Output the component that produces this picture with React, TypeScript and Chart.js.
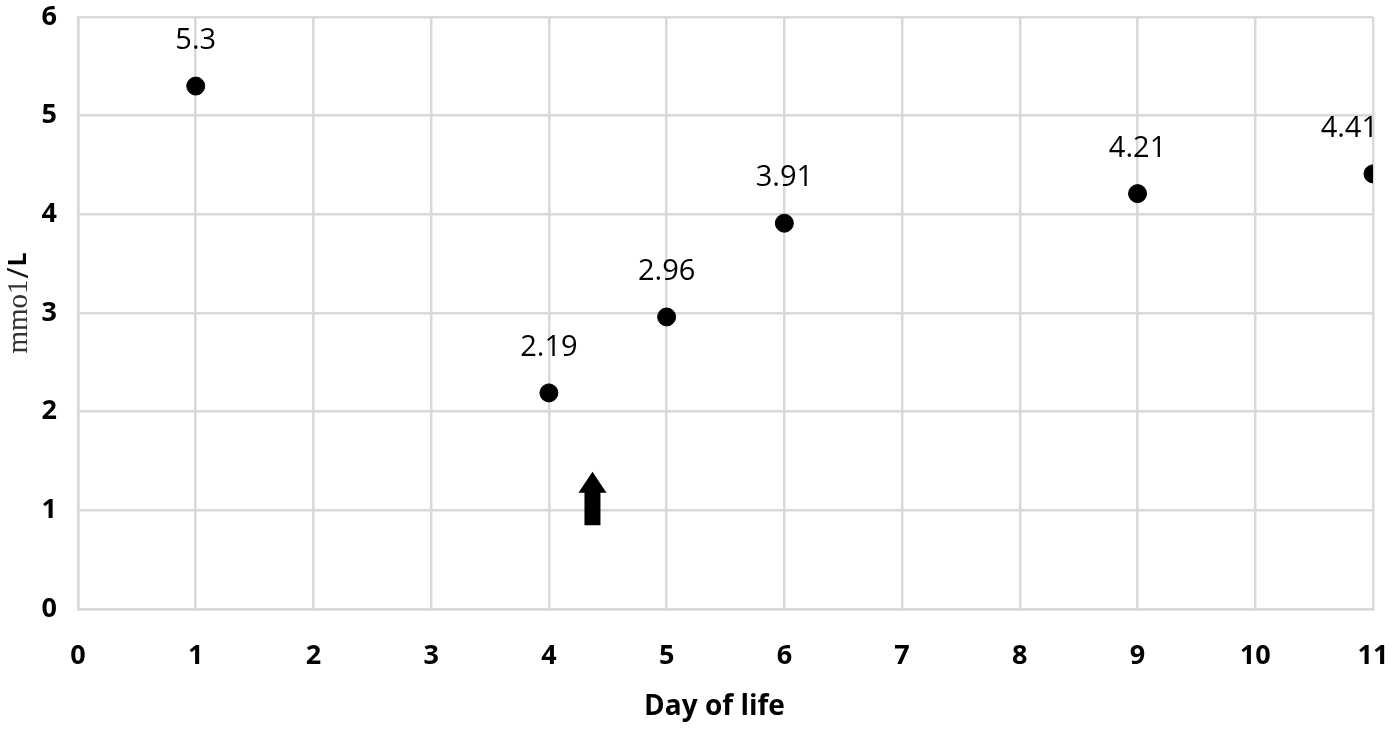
import React, { useEffect, useRef } from "react";
import { Chart, registerables } from "chart.js";

Chart.register(...registerables);

const days = [1, 4, 5, 6, 9, 11];
const values = [5.3, 2.19, 2.96, 3.91, 4.21, 4.41];
const valueLabels = ["5.3", "2.19", "2.96", "3.91", "4.21", "4.41"];
const xTickValues = [0, 1, 2, 3, 4, 5, 6, 7, 8, 9, 10, 11];
const yTickValues = [0, 1, 2, 3, 4, 5, 6];
const arrowDay = 4.37;
const arrowTopValue = 1.39;
const arrowBottomValue = 0.85;
const yTitleSerif = "mmo1";
const yTitleSlash = "/";
const yTitleBold = "L";
const xTitle = "Day of life";

const SANS = "'Open Sans', 'DejaVu Sans', sans-serif";

const labelPlugin = {
  id: "valueLabels",
  afterDatasetsDraw(chart: any) {
    const ctx = chart.ctx;
    const meta = chart.getDatasetMeta(0);
    ctx.save();
    ctx.font = `29px ${SANS}`;
    ctx.fillStyle = "#000";
    ctx.textAlign = "center";
    ctx.textBaseline = "middle";
    const maxRight = chart.width - 17;
    meta.data.forEach((pt: any, i: number) => {
      const w = ctx.measureText(valueLabels[i]).width;
      let x = pt.x;
      if (x + w / 2 > maxRight) x = maxRight - w / 2;
      ctx.fillText(valueLabels[i], x, pt.y - 45);
    });
    ctx.restore();
  },
};

const arrowPlugin = {
  id: "arrow",
  afterDatasetsDraw(chart: any) {
    const ctx = chart.ctx;
    const xs = chart.scales.x;
    const ys = chart.scales.y;
    const cx = xs.getPixelForValue(arrowDay);
    const top = ys.getPixelForValue(arrowTopValue);
    const bottom = ys.getPixelForValue(arrowBottomValue);
    const headH = 21;
    const headW = 14;
    const shaftW = 8;
    ctx.save();
    ctx.fillStyle = "#000";
    ctx.beginPath();
    ctx.moveTo(cx, top);
    ctx.lineTo(cx + headW, top + headH);
    ctx.lineTo(cx + shaftW, top + headH);
    ctx.lineTo(cx + shaftW, bottom);
    ctx.lineTo(cx - shaftW, bottom);
    ctx.lineTo(cx - shaftW, top + headH);
    ctx.lineTo(cx - headW, top + headH);
    ctx.closePath();
    ctx.fill();
    ctx.restore();
  },
};

const titlePlugin = {
  id: "titles",
  afterDraw(chart: any) {
    const ctx = chart.ctx;
    const area = chart.chartArea;
    ctx.save();
    // x-axis title
    ctx.font = `bold 28px ${SANS}`;
    ctx.fillStyle = "#000";
    ctx.textAlign = "center";
    ctx.textBaseline = "middle";
    ctx.fillText(xTitle, (area.left + area.right) / 2 - 11, area.bottom + 98);
    // y-axis title
    const serifFont = "29px 'Liberation Serif', 'DejaVu Serif', serif";
    const slashFont = `30px ${SANS}`;
    const boldFont = `bold 25px ${SANS}`;
    ctx.font = serifFont;
    const w1 = ctx.measureText(yTitleSerif).width;
    ctx.font = slashFont;
    const w2 = ctx.measureText(yTitleSlash).width;
    ctx.font = boldFont;
    const w3 = ctx.measureText(yTitleBold).width;
    const total = w1 + w2 + w3 + 2;
    const cy = (area.top + area.bottom) / 2 - 10;
    ctx.translate(19, cy);
    ctx.rotate(-Math.PI / 2);
    ctx.textBaseline = "middle";
    ctx.textAlign = "left";
    let x = -total / 2;
    ctx.font = serifFont;
    ctx.fillStyle = "#333";
    ctx.fillText(yTitleSerif, x, 0);
    x += w1 + 1;
    ctx.font = slashFont;
    ctx.fillStyle = "#111";
    ctx.fillText(yTitleSlash, x, 0);
    x += w2 + 1;
    ctx.font = boldFont;
    ctx.fillStyle = "#000";
    ctx.fillText(yTitleBold, x, 0);
    ctx.restore();
  },
};

export default function App() {
  const ref = useRef<HTMLCanvasElement | null>(null);
  useEffect(() => {
    if (!ref.current) return;
    const chart = new Chart(ref.current, {
      type: "scatter",
      data: {
        datasets: [
          {
            data: days.map((d, i) => ({ x: d, y: values[i] })),
            backgroundColor: "#000",
            borderColor: "#000",
            pointRadius: 9,
            pointHoverRadius: 9,
          },
        ],
      },
      options: {
        animation: false,
        responsive: false,
        devicePixelRatio: 1,
        layout: { padding: { top: 17, right: 22, left: 0, bottom: 0 } },
        plugins: {
          legend: { display: false },
          tooltip: { enabled: false },
        },
        scales: {
          x: {
            type: "linear",
            min: 0,
            max: 11,
            afterBuildTicks: (axis: any) => {
              axis.ticks = xTickValues.map((v) => ({ value: v }));
            },
            afterFit: (axis: any) => {
              axis.height = 125;
              axis.paddingLeft = 0;
              axis.paddingRight = 0;
              axis.paddingTop = 0;
              axis.paddingBottom = 0;
            },
            grid: { color: "#d9d9d9", lineWidth: 2.5, tickLength: 0 },
            border: { color: "#d9d9d9", width: 2.5 },
            ticks: {
              padding: 31,
              color: "#000",
              font: { family: SANS, size: 27, weight: "bold" },
            },
            title: { display: false },
          },
          y: {
            type: "linear",
            min: 0,
            max: 6,
            afterBuildTicks: (axis: any) => {
              axis.ticks = yTickValues.map((v) => ({ value: v }));
            },
            afterFit: (axis: any) => {
              axis.width = 78;
              axis.paddingLeft = 0;
              axis.paddingRight = 0;
              axis.paddingTop = 0;
              axis.paddingBottom = 0;
            },
            grid: { color: "#d9d9d9", lineWidth: 2.5, tickLength: 0 },
            border: { color: "#d9d9d9", width: 2.5 },
            ticks: {
              padding: 21,
              color: "#000",
              font: { family: SANS, size: 27, weight: "bold" },
            },
          },
        },
      },
      plugins: [labelPlugin, arrowPlugin, titlePlugin],
    } as any);
    return () => chart.destroy();
  }, []);
  return (
    <div style={{ position: "fixed", left: 0, top: 0, width: 1395, height: 734, background: "#fff" }}>
      <canvas ref={ref} width={1395} height={734} style={{ width: 1395, height: 734 }} />
    </div>
  );
}
